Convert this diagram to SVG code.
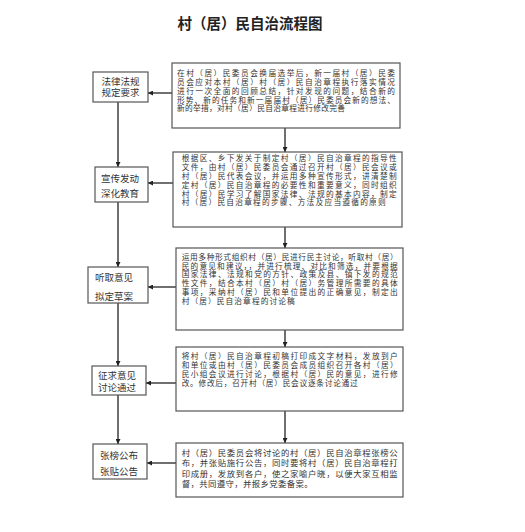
<svg xmlns="http://www.w3.org/2000/svg" width="525" height="532" viewBox="0 0 525 532">
<style>
.box{fill:#fff;stroke:#555;stroke-width:1.2}
.t{font-family:"Liberation Serif","Noto Sans CJK SC",serif;font-size:7.7px;fill:#333}
.t5{font-family:"Liberation Serif","Noto Sans CJK SC",serif;font-size:8.4px;fill:#333}
.l{font-family:"Liberation Serif","Noto Sans CJK SC",serif;font-size:9.5px;fill:#333}
.title{font-family:"Liberation Sans","Noto Sans CJK SC",sans-serif;font-size:14.5px;font-weight:bold;fill:#222}
.c{stroke:#333;stroke-width:1.4;fill:none;marker-end:url(#ah)}
</style>
<defs>
<marker id="ah" viewBox="0 0 10 10" refX="10" refY="5" markerWidth="5" markerHeight="5" orient="auto" markerUnits="userSpaceOnUse">
<path d="M0,0 L10,5 L0,10 z" fill="#222"/>
</marker>
</defs>
<rect width="525" height="532" fill="#fff"/>
<text class="title" x="250" y="29" text-anchor="middle">村（居）民自治流程图</text>

<g id="connectors">
<line class="c" x1="118" y1="102" x2="118" y2="167"/>
<line class="c" x1="118" y1="202" x2="118" y2="267"/>
<line class="c" x1="118" y1="303" x2="118" y2="366"/>
<line class="c" x1="118" y1="395" x2="118" y2="444"/>
<line class="c" x1="172" y1="93" x2="148" y2="93"/>
<line class="c" x1="173" y1="183" x2="148" y2="183"/>
<line class="c" x1="176" y1="287" x2="148" y2="287"/>
<line class="c" x1="176" y1="383" x2="146" y2="383"/>
<line class="c" x1="176" y1="463" x2="147" y2="463"/>
<line class="c" x1="285" y1="128" x2="285" y2="152"/>
<line class="c" x1="285" y1="227" x2="285" y2="248"/>
<line class="c" x1="285" y1="330" x2="285" y2="347"/>
<line class="c" x1="285" y1="411" x2="285" y2="443"/>
</g>

<g id="L1">
<rect class="box" x="93" y="72" width="55" height="30"/>
<text class="l" x="120.5" y="85" text-anchor="middle" font-size="10">法律法规</text>
<text class="l" x="120.5" y="96" text-anchor="middle" font-size="10">规定要求</text>
</g>
<g id="L2">
<rect class="box" x="95" y="167" width="53" height="35"/>
<text class="l" x="101" y="182">宣传发动</text>
<text class="l" x="101" y="197">深化教育</text>
</g>
<g id="L3">
<rect class="box" x="88" y="267" width="60" height="36"/>
<text class="l" x="95" y="281">听取意见</text>
<text class="l" x="95" y="300">拟定草案</text>
</g>
<g id="L4">
<rect class="box" x="92" y="366" width="54" height="29"/>
<text class="l" x="98" y="379">征求意见</text>
<text class="l" x="98" y="390.5">讨论通过</text>
</g>
<g id="L5">
<rect class="box" x="93" y="444" width="54" height="35"/>
<text class="l" x="100" y="459">张榜公布</text>
<text class="l" x="100" y="475">张贴公告</text>
</g>

<g id="R1">
<rect class="box" x="172" y="63" width="228" height="65"/>
<text class="t" x="177" y="76.3" textLength="218" lengthAdjust="spacing">在村（居）民委员会换届选举后，新一届村（居）民委</text>
<text class="t" x="177" y="85.2" textLength="218" lengthAdjust="spacing">员会应对本村（居）村（居）民自治章程执行落实情况</text>
<text class="t" x="177" y="94.1" textLength="218" lengthAdjust="spacing">进行一次全面的回顾总结，针对发现的问题，结合新的</text>
<text class="t" x="177" y="102.6" textLength="218" lengthAdjust="spacing">形势、新的任务和新一届届村（居）民委员会新的想法、</text>
<text class="t" x="177" y="111.4" textLength="168" lengthAdjust="spacing">新的举措，对村（居）民自治章程进行修改完善</text>
</g>
<g id="R2">
<rect class="box" x="173" y="152" width="229" height="75"/>
<text class="t" x="181.7" y="161.3" textLength="215" lengthAdjust="spacing">根据区、乡下发关于制定村（居）民自治章程的指导性</text>
<text class="t" x="181.7" y="170.2" textLength="215" lengthAdjust="spacing">文件，由村（居）民委员会通过召开村（居）民会议或</text>
<text class="t" x="181.7" y="179" textLength="215" lengthAdjust="spacing">村（居）民代表会议，并运用多种宣传形式，讲清楚制</text>
<text class="t" x="181.7" y="187.9" textLength="215" lengthAdjust="spacing">定村（居）民自治章程的必要性和重要意义，同时组织</text>
<text class="t" x="181.7" y="196.6" textLength="215" lengthAdjust="spacing">村（居）民学习了解国家法律、法规的基本内容，制定</text>
<text class="t" x="181.7" y="205.4" textLength="204" lengthAdjust="spacing">村（居）民自治章程的步骤、方法及应当遵循的原则</text>
</g>
<g id="R3">
<rect class="box" x="176" y="248" width="227" height="82"/>
<text class="t" x="181.7" y="259.8" textLength="216" lengthAdjust="spacing">运用多种形式组织村（居）民进行民主讨论，听取村（居）</text>
<text class="t" x="181.7" y="268.7" textLength="216" lengthAdjust="spacing">民的意见和建议，，并进行梳理、对比和筛选，并要根据</text>
<text class="t" x="181.7" y="277.4" textLength="216" lengthAdjust="spacing">国家法律、法规和党的方针、政策及县、镇下发的规范</text>
<text class="t" x="181.7" y="286.3" textLength="216" lengthAdjust="spacing">性文件，结合本村（居）村（居）务管理所需要的具体</text>
<text class="t" x="181.7" y="295.2" textLength="216" lengthAdjust="spacing">事项，采纳村（居）民和单位提出的正确意见，制定出</text>
<text class="t" x="181.7" y="304" textLength="113" lengthAdjust="spacing">村（居）民自治章程的讨论稿</text>
</g>
<g id="R4">
<rect class="box" x="176" y="347" width="227" height="64"/>
<text class="t" x="181.7" y="359" textLength="216" lengthAdjust="spacing">将村（居）民自治章程初稿打印成文字材料，发放到户</text>
<text class="t" x="181.7" y="367.9" textLength="216" lengthAdjust="spacing">和单位或由村（居）民委员会成员组织召开各村（居）</text>
<text class="t" x="181.7" y="376.8" textLength="216" lengthAdjust="spacing">民小组会议进行讨论，根据村（居）民的意见，进行修</text>
<text class="t" x="181.7" y="385.6" textLength="176" lengthAdjust="spacing">改。修改后，召开村（居）民会议逐条讨论通过</text>
</g>
<g id="R5">
<rect class="box" x="176" y="443" width="227" height="54"/>
<text class="t5" x="181.7" y="455.8" textLength="216" lengthAdjust="spacing">村（居）民委员会将讨论的村（居）民自治章程张榜公</text>
<text class="t5" x="181.7" y="466.4" textLength="216" lengthAdjust="spacing">布，并张贴施行公告，同时要将村（居）民自治章程打</text>
<text class="t5" x="181.7" y="476.8" textLength="216" lengthAdjust="spacing">印成册，发放到各户，使之家喻户晓，以便大家互相监</text>
<text class="t5" x="181.7" y="486.8" textLength="131" lengthAdjust="spacing">督，共同遵守，并报乡党委备案。</text>
</g>
</svg>
